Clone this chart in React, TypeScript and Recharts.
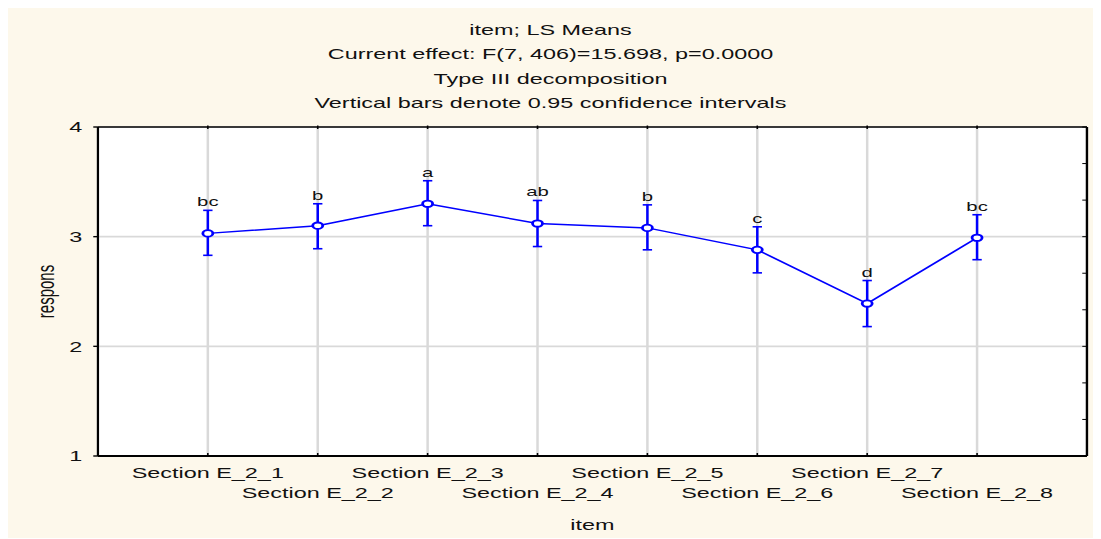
import { LineChart, Line, XAxis, YAxis, CartesianGrid, ErrorBar, LabelList, Customized } from 'recharts'

const categories = [
  'Section E_2_1', 'Section E_2_2', 'Section E_2_3', 'Section E_2_4',
  'Section E_2_5', 'Section E_2_6', 'Section E_2_7', 'Section E_2_8',
]
const means = [3.03, 3.10, 3.30, 3.12, 3.08, 2.88, 2.39, 2.99]
const lower = [2.83, 2.89, 3.10, 2.91, 2.88, 2.67, 2.18, 2.79]
const upper = [3.24, 3.30, 3.51, 3.33, 3.29, 3.09, 2.60, 3.20]
const letters = ['bc', 'b', 'a', 'ab', 'b', 'c', 'd', 'bc']
const yTicks = [1, 2, 3, 4]
const yMinorTicks = [1, 4 / 3, 5 / 3, 2, 7 / 3, 8 / 3, 3, 10 / 3, 11 / 3, 4]
const xTicks = [1, 2, 3, 4, 5, 6, 7, 8]
const titleLines = [
  'item; LS Means',
  'Current effect: F(7, 406)=15.698, p=0.0000',
  'Type III decomposition',
  'Vertical bars denote 0.95 confidence intervals',
]

const data = categories.map((name, i) => ({
  x: i + 1,
  name,
  mean: means[i],
  err: [means[i] - lower[i], upper[i] - means[i]],
  upper: upper[i],
  letter: letters[i],
}))

// the reference is stretched sideways, so the chart is drawn narrow and scaled
const STRETCH = 1.56
const OUT_W = 1087
const H = 531
const W = OUT_W / STRETCH
const FONT = '"Liberation Sans", Arial, sans-serif'
const BLUE = '#0000FF'

function XTick({ x, y, payload }: any) {
  const i = payload.value - 1
  const dy = i % 2 === 0 ? 22 : 42
  return (
    <g>
      <line x1={x} y1={y} x2={x} y2={y - 3} stroke="#000" strokeWidth={1} />
      <text x={x} y={y + dy} textAnchor="middle" fontSize={15} fontFamily={FONT} fill="#111">
        {categories[i]}
      </text>
    </g>
  )
}

// inward tick marks only, no labels
function RightTick({ x, y }: any) {
  return <line x1={x} y1={y} x2={x - 3} y2={y} stroke="#000" strokeWidth={1} />
}

function TopTick({ x, y }: any) {
  return <line x1={x} y1={y - 1.5} x2={x} y2={y + 2} stroke="#000" strokeWidth={1} />
}

function YTitle({ viewBox }: any) {
  const cx = viewBox.x + 24.5
  const cy = viewBox.y + viewBox.height / 2
  return (
    <text x={cx} y={cy} transform={`rotate(-90 ${cx} ${cy})`} textAnchor="middle"
      dominantBaseline="central" fontSize={15} fontFamily={FONT} fill="#111">
      respons
    </text>
  )
}

function Titles() {
  return (
    <g>
      {titleLines.map((t, i) => (
        <text key={i} x={W / 2} y={28 + i * 24.5} textAnchor="middle" fontSize={15}
          fontFamily={FONT} fill="#111">
          {t}
        </text>
      ))}
    </g>
  )
}

export default function App() {
  return (
    <div style={{ width: OUT_W, height: H, background: '#FDF8EB', marginLeft: -1, marginTop: -1, overflow: 'hidden' }}>
      <div style={{ width: W, transform: `scaleX(${STRETCH})`, transformOrigin: '0 0' }}>
        <LineChart width={W} height={H} data={data} margin={{ top: 119, right: 3.5, bottom: 0, left: 0 }}>
          <CartesianGrid fill="#fff" stroke="#D9D9D9" strokeWidth={1.6} />
          <XAxis
            dataKey="x" type="number" domain={[0, 9]} ticks={xTicks} height={82}
            axisLine={{ stroke: '#000', strokeWidth: 2 }} tickLine={false}
            tickSize={0} tickMargin={0} tick={<XTick />} interval={0}
            label={{ value: 'item', position: 'insideBottom', offset: 8, fontSize: 15, fontFamily: FONT, fill: '#111' }}
          />
          <XAxis
            xAxisId="top" dataKey="x" orientation="top" type="number" domain={[0, 9]} ticks={xTicks}
            height={1} tickLine={false} tickSize={0} tickMargin={0} tick={<TopTick />} interval={0}
            axisLine={{ stroke: '#000', strokeWidth: 1.5 }}
          />
          <YAxis
            type="number" domain={[1, 4]} ticks={yTicks} width={58.3} interval={0}
            axisLine={{ stroke: '#000', strokeWidth: 1.4 }} tickLine={{ stroke: '#000', strokeWidth: 1.4 }}
            tickSize={3} tickMargin={7}
            tick={{ fontSize: 15, fontFamily: FONT, fill: '#111' }}
            label={<YTitle />}
          />
          <YAxis
            yAxisId="right" orientation="right" type="number" domain={[1, 4]} ticks={yMinorTicks}
            width={1} tickLine={false} tickSize={0} tickMargin={0} tick={<RightTick />} interval={0}
            axisLine={{ stroke: '#000', strokeWidth: 1.5 }}
          />
          <Line
            dataKey="mean" stroke={BLUE} strokeWidth={1.5} isAnimationActive={false}
            dot={{ r: 3.2, stroke: BLUE, strokeWidth: 1.8, fill: '#fff' }} activeDot={false}
          />
          <Line xAxisId="top" dataKey="mean" stroke="none" dot={false} activeDot={false} isAnimationActive={false}>
            <ErrorBar dataKey="err" direction="y" width={3} stroke={BLUE} strokeWidth={1.6} isAnimationActive={false} />
          </Line>
          <Line yAxisId="right" dataKey="upper" stroke="none" dot={false} activeDot={false} isAnimationActive={false}>
            <LabelList dataKey="letter" position="top" offset={4} fontSize={13} fontFamily={FONT} fill="#111" />
          </Line>
          <Customized component={<Titles />} />
        </LineChart>
      </div>
    </div>
  )
}
